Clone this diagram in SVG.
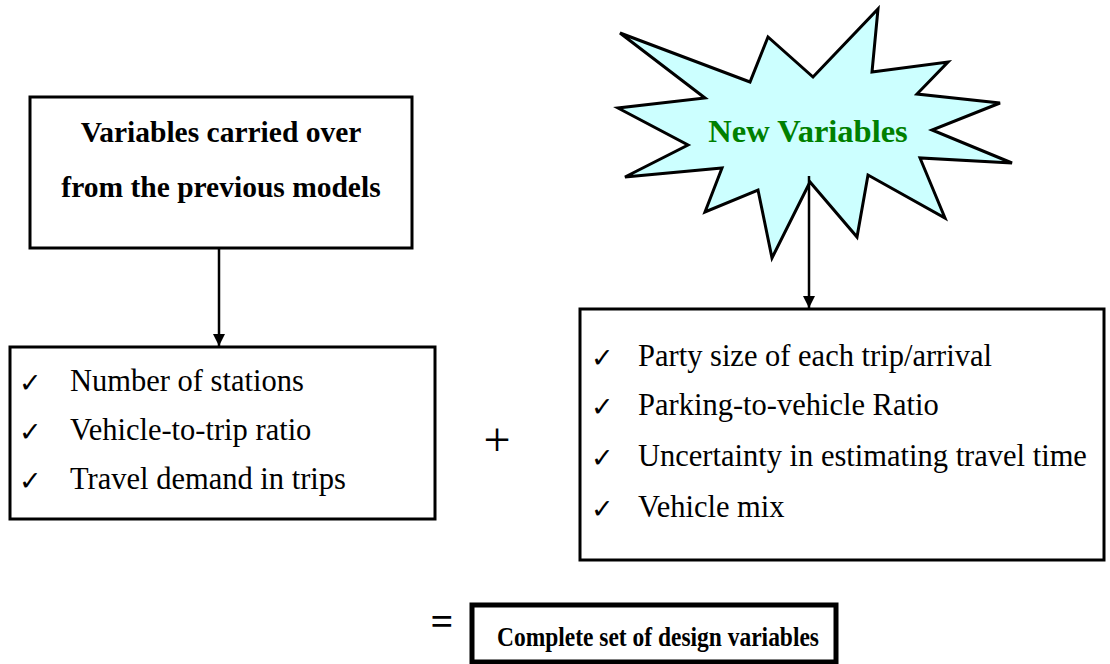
<svg xmlns="http://www.w3.org/2000/svg" width="1110" height="664" viewBox="0 0 1110 664">
<style>
.box{fill:#fff;stroke:#000;stroke-width:3}
.title{font-family:"Liberation Serif",serif;font-weight:bold;font-size:29.5px;fill:#000;text-anchor:middle}
.item{font-family:"Liberation Serif",serif;font-size:30.5px;fill:#000}
.chk{font-family:"DejaVu Sans",sans-serif;font-size:27px;font-weight:bold;fill:#000}
.conn{stroke:#000;stroke-width:2.5;fill:none}
</style>
<defs>
<marker id="ah" viewBox="0 0 10 10" refX="10" refY="5" markerWidth="5" markerHeight="5" markerUnits="strokeWidth" orient="auto">
<path d="M0,0 L10,5 L0,10 z" fill="#000"/>
</marker>
</defs>
<g id="node-carried">
<rect class="box" x="30" y="97" width="382" height="151"/>
<text class="title" x="221" y="142">Variables carried over</text>
<text class="title" x="221" y="197">from the previous models</text>
</g>
<g id="node-new">
<polygon points="620,33 750,82 768,37 813,77 878,9 872,72 948,62 917,94 1000,103 932,130 1012,163 920,158 945,218 868,175 857,237 810,182 772,258 758,190 705,212 722,168 625,177 688,145 618,108 705,98" fill="#CCFFFF" stroke="#000" stroke-width="3" stroke-linejoin="miter"/>
<text x="808" y="142" font-family="Liberation Serif,serif" font-weight="bold" font-size="32.5" fill="#008000" text-anchor="middle">New Variables</text>
</g>
<g id="node-old-list">
<rect class="box" x="10" y="347" width="425" height="172"/>
<text class="chk" x="19" y="392">✓</text>
<text class="item" x="70" y="391">Number of stations</text>
<text class="chk" x="19" y="441">✓</text>
<text class="item" x="70" y="440">Vehicle-to-trip ratio</text>
<text class="chk" x="19" y="490">✓</text>
<text class="item" x="70" y="489">Travel demand in trips</text>
</g>
<g id="node-new-list">
<rect class="box" x="580" y="309" width="524" height="251"/>
<text class="chk" x="591" y="367">✓</text>
<text class="item" x="638" y="366">Party size of each trip/arrival</text>
<text class="chk" x="591" y="416">✓</text>
<text class="item" x="638" y="415">Parking-to-vehicle Ratio</text>
<text class="chk" x="591" y="467">✓</text>
<text class="item" x="638" y="466">Uncertainty in estimating travel time</text>
<text class="chk" x="591" y="518">✓</text>
<text class="item" x="638" y="517">Vehicle mix</text>
</g>
<g id="node-plus">
<text x="497" y="456" font-family="Liberation Serif,serif" font-size="48" text-anchor="middle">+</text>
</g>
<g id="node-equals">
<text x="442" y="635" font-family="Liberation Serif,serif" font-weight="bold" font-size="40" text-anchor="middle">=</text>
</g>
<g id="node-complete">
<rect x="472" y="605" width="364" height="57" fill="#fff" stroke="#000" stroke-width="5"/>
<text x="497" y="646" font-family="Liberation Serif,serif" font-weight="bold" font-size="28" textLength="322" lengthAdjust="spacingAndGlyphs">Complete set of design variables</text>
</g>
<g id="connectors">
<line class="conn" x1="219" y1="248" x2="219" y2="346" marker-end="url(#ah)"/>
<line class="conn" x1="809" y1="176" x2="809" y2="308" marker-end="url(#ah)"/>
</g>
</svg>
